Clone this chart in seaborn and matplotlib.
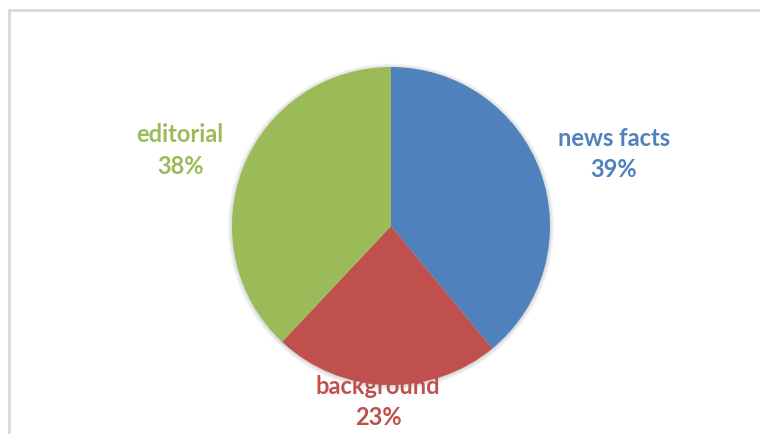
import numpy as np
import matplotlib
matplotlib.use("Agg")
import matplotlib.pyplot as plt
from matplotlib.lines import Line2D
from matplotlib.patches import Circle
import seaborn as sns

# Share of article content by type
categories = ["news facts", "background", "editorial"]
shares = [39, 23, 38]
colors = ["#4F81BD", "#C0504D", "#9BBB59"]
# label block offset from the wedge's outer edge midpoint, in pixels
label_offset = [(73, 18), (-8, -17), (-63, 17)]

sns.set_theme(style="white")
plt.rcParams["font.family"] = ["Lato", "DejaVu Sans"]

W, H = 760, 434
fig = plt.figure(figsize=(W / 100, H / 100), dpi=100)
fig.patch.set_facecolor("white")

# Pie centre and radius in pixels
cx, cy, r = 391, 226, 159
ax = fig.add_axes([(cx - r) / W, (H - cy - r) / H, 2 * r / W, 2 * r / H])
ax.axis("off")

# soft glow-like shadow behind the pie
for i in range(7):
    ax.add_patch(Circle((0, -0.004), 1 + 0.0045 * i, facecolor="black",
                        alpha=0.022, lw=0, zorder=0, clip_on=False))

wedges, _ = ax.pie(shares, colors=colors, startangle=90, counterclock=False,
                   radius=1, wedgeprops=dict(linewidth=0, zorder=2))
ax.set_xlim(-1, 1)
ax.set_ylim(-1, 1)
ax.set_aspect("equal")

for w, cat, val, col, off in zip(wedges, categories, shares, colors, label_offset):
    mid = np.deg2rad((w.theta1 + w.theta2) / 2)
    ax.annotate(f"{cat}\n{val}%", xy=(np.cos(mid), np.sin(mid)),
                xytext=off, textcoords="offset pixels",
                ha="center", va="center", color=col, fontsize=17,
                fontweight="bold", linespacing=1.45, annotation_clip=False,
                zorder=3)

# Chart-area frame (top and left edges)
edge = "#D9D9D9"
fig.add_artist(Line2D([9 / W, 1], [1 - 10 / H, 1 - 10 / H], color=edge, lw=2,
                      transform=fig.transFigure))
fig.add_artist(Line2D([9 / W, 9 / W], [0, 1 - 10 / H], color=edge, lw=2,
                      transform=fig.transFigure))

fig.savefig("out.png", dpi=100, facecolor="white")
